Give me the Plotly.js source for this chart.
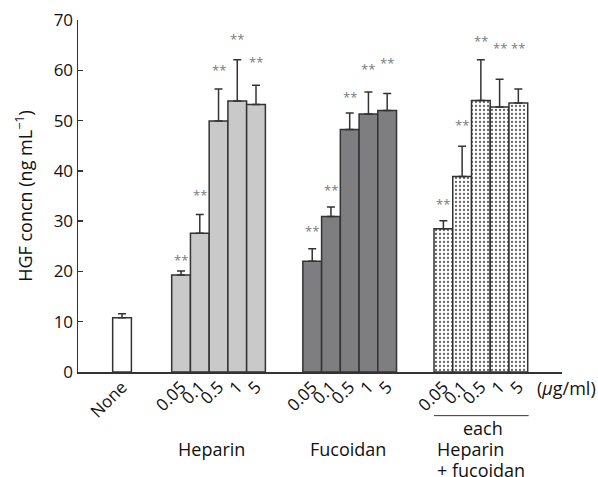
<!DOCTYPE html>
<html>
<head>
<meta charset="utf-8">
<script src="https://cdn.plot.ly/plotly-3.0.1.min.js"></script>
<style>html,body{margin:0;padding:0;background:#fff;}#chart{width:598px;height:477px;}</style>
</head>
<body>
<div id="chart"></div>
<script>
// ---- data ----
var doseLabels = ["0.05", "0.1", "0.5", "1", "5"];
var noneLabel = "None";
var noneValue = 10.8;
var noneError = 0.8;

var heparinValues = [19.3, 27.6, 49.9, 53.9, 53.2];
var heparinErrors = [0.8, 3.7, 6.4, 8.2, 3.8];
var heparinSigY   = [22.9, 35.8, 60.6, 66.8, 62.2];

var fucoidanValues = [22.0, 30.9, 48.2, 51.3, 52.0];
var fucoidanErrors = [2.5, 1.9, 3.3, 4.4, 3.4];
var fucoidanSigY   = [28.7, 36.7, 55.2, 60.9, 62.0];

var comboValues = [28.5, 38.9, 54.0, 52.7, 53.5];
var comboErrors = [1.6, 6.0, 8.1, 5.5, 2.8];
var comboSigY   = [34.1, 49.8, 66.5, 65.0, 65.0];

var groupNames = ["Heparin", "Fucoidan", "each", "Heparin", "+ fucoidan"];
var unitLabel = "(<i>\u03bc</i>g/ml)";
var yTitle = "HGF concn (ng mL<sup>\u22121</sup>)";
var sigText = "**";

// ---- layout helpers (positions on the numeric x axis) ----
var nonePos = 2.35;
function groupPositions(g) {
  return doseLabels.map(function (_, i) { return 5 + 7 * g + i + 0.5; });
}
var hepX = groupPositions(0), fucX = groupPositions(1), comX = groupPositions(2);

var edge = "#333333";
var font = "Open Sans, Noto Sans, sans-serif";

function barTrace(x, y, err, fill, pattern) {
  var t = {
    type: "bar", x: x, y: y, width: 1,
    marker: { color: fill, line: { color: edge, width: 1.5 } },
    error_y: { type: "data", array: err, arrayminus: err.map(function(){return 0;}),
               symmetric: false, color: edge, thickness: 1.5, width: 4 },
    hoverinfo: "skip", showlegend: false
  };
  if (pattern) t.marker.pattern = pattern;
  return t;
}

var traces = [
  barTrace([nonePos], [noneValue], [noneError], "#ffffff"),
  barTrace(hepX, heparinValues, heparinErrors, "#c9c9c9"),
  barTrace(fucX, fucoidanValues, fucoidanErrors, "#7e7e80"),
  barTrace(comX, comboValues, comboErrors, "#ffffff",
           { shape: ".", fgcolor: "#666666", bgcolor: "#ffffff", size: 4, solidity: 0.25 })
];

var annotations = [];
function addSig(xs, ys) {
  xs.forEach(function (x, i) {
    annotations.push({ x: x, y: ys[i], xref: "x", yref: "y", text: sigText, showarrow: false,
      font: { family: font, size: 13, color: "#7a7a7a" }, yanchor: "middle", yshift: -3 });
  });
}
addSig(hepX, heparinSigY);
addSig(fucX, fucoidanSigY);
addSig(comX, comboSigY);

var lblFont = { family: font, size: 18, color: "#111" };
annotations.push({ x: 7.1, y: -0.219, xref: "x", yref: "paper", text: groupNames[0], showarrow: false, font: lblFont, xanchor: "center", yanchor: "middle" });
annotations.push({ x: 14.4, y: -0.219, xref: "x", yref: "paper", text: groupNames[1], showarrow: false, font: lblFont, xanchor: "center", yanchor: "middle" });
annotations.push({ x: 21.6, y: -0.158, xref: "x", yref: "paper", text: groupNames[2], showarrow: false, font: lblFont, xanchor: "center", yanchor: "middle" });
annotations.push({ x: 19.05, y: -0.219, xref: "x", yref: "paper", text: groupNames[3], showarrow: false, font: lblFont, xanchor: "left", yanchor: "middle" });
annotations.push({ x: 19.05, y: -0.277, xref: "x", yref: "paper", text: groupNames[4], showarrow: false, font: lblFont, xanchor: "left", yanchor: "middle" });
annotations.push({ x: 0.945, y: -0.045, xref: "paper", yref: "paper", text: unitLabel, showarrow: false, font: lblFont, xanchor: "left", yanchor: "middle" });

var tickvals = [nonePos].concat(hepX, fucX, comX);
var ticktext = [noneLabel].concat(doseLabels, doseLabels, doseLabels);

var layout = {
  width: 598, height: 477,
  margin: { l: 78, r: 36, t: 20, b: 105 },
  paper_bgcolor: "#fff", plot_bgcolor: "#fff",
  font: { family: font, size: 17, color: "#111" },
  barmode: "overlay",
  xaxis: {
    range: [0, 25.83], tickmode: "array", tickvals: tickvals, ticktext: ticktext,
    tickangle: -45, ticks: "", showgrid: false, zeroline: false,
    showline: true, linecolor: edge, linewidth: 1.5, ticklabelstandoff: -3,
    tickfont: { family: font, size: 17, color: "#111" }
  },
  yaxis: {
    range: [0, 70], dtick: 10, ticks: "inside", ticklen: 5, tickwidth: 1.5, tickcolor: edge,
    showgrid: false, zeroline: false, showline: true, linecolor: edge, linewidth: 1.5,
    tickfont: { family: font, size: 17, color: "#111" },
    title: { text: yTitle, font: { family: font, size: 18, color: "#111" } }
  },
  shapes: [{ type: "line", xref: "x", yref: "paper", x0: 19.0, x1: 24.05, y0: -0.124, y1: -0.124,
             line: { color: edge, width: 1 } }],
  annotations: annotations
};

Plotly.newPlot("chart", traces, layout, { displayModeBar: false, staticPlot: true });
</script>
</body>
</html>
